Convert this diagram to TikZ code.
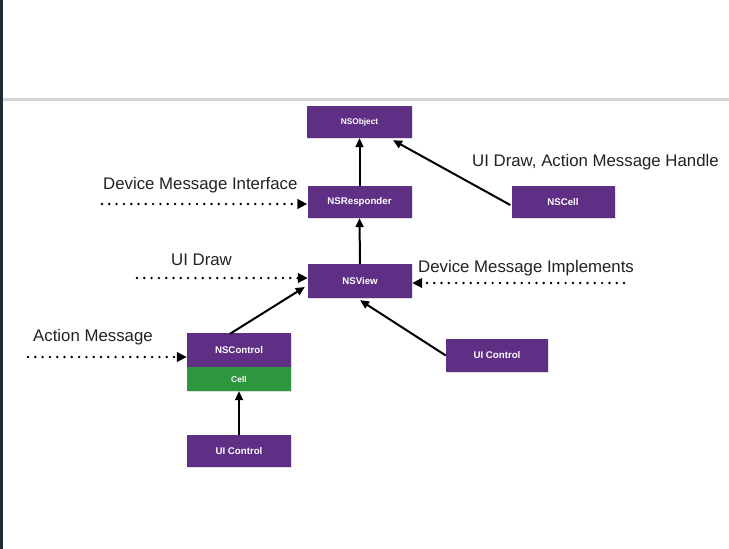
\documentclass[tikz,border=0pt]{standalone}
\usepackage{fontspec}
\setmainfont{Liberation Sans}
\usetikzlibrary{arrows.meta,calc,shadows}
\definecolor{boxpurple}{RGB}{94,47,133}
\definecolor{boxgreen}{RGB}{46,150,60}
\definecolor{labelgray}{RGB}{34,34,34}
\definecolor{rulegray}{RGB}{212,212,212}
\definecolor{edgedark}{RGB}{30,43,48}
\tikzset{
  cls/.style={fill=boxpurple, draw=none, text=white, inner sep=0pt,
    minimum width=104pt, minimum height=32pt,
    font=\fontsize{9.7}{11}\selectfont\bfseries,
    drop shadow={shadow xshift=1pt, shadow yshift=-1.2pt, opacity=0.25}},
  cellbox/.style={cls, fill=boxgreen, minimum height=24pt,
    font=\fontsize{8.5}{10}\selectfont\bfseries},
  lbl/.style={anchor=base west, inner sep=0pt, text=labelgray,
    font=\fontsize{16.8}{19}\selectfont},
  inherit/.style={-{Triangle[length=9pt,width=8pt]}, line width=2pt, black},
  msg/.style={-{Triangle[length=10pt,width=9.5pt]}, line width=2.7pt, black,
    line cap=round, dash pattern=on 0pt off 7.3pt}
}
\begin{document}
\begin{tikzpicture}[x=1pt,y=-1pt]
\useasboundingbox (0,0) rectangle (729,549);
\fill[white] (0,0) rectangle (729,549);
\fill[edgedark] (0,0) rectangle (2.5,549);
\fill[rulegray] (2.5,98) rectangle (729,100.5);

% class boxes
\node[cls, font=\fontsize{8.3}{10}\selectfont\bfseries, minimum width=105pt] (obj) at (359.5,122) {NSObject};
\node[cls] (resp) at (359.5,202) {NSResponder};
\node[cls, minimum width=103pt] (cell) at (563,202) {NSCell};
\node[cls, minimum height=34pt] (view) at (360,281) {NSView};
\node[cls, minimum height=34pt] (ctrl) at (239,350) {NSControl};
\node[cellbox] (ccell) at (239,379) {Cell};
\node[cls] (uil) at (239,451) {UI Control};
\node[cls, minimum width=102pt, minimum height=33pt] (uir) at (497,355.5) {UI Control};

% labels
\node[lbl] (tdmi) at (103,189) {Device Message Interface};
\node[lbl] (tuid) at (472,166) {UI Draw, Action Message Handle};
\node[lbl] (tdraw) at (171,265) {UI Draw};
\node[lbl] (timp) at (418,272) {Device Message Implements};
\node[lbl] (tact) at (33,341) {Action Message};

% inheritance arrows
\draw[inherit] (resp.north) -- (obj.south);
\draw[inherit] ($(cell.west)+(-1,3)$) -- ($(obj.south)+(33.5,2)$);
\draw[inherit] (view.north) -- (resp.south);
\draw[inherit] ($(ctrl.north)+(-9,1)$) -- ($(view.west)+(-3,6)$);
\draw[inherit] (uir.west) -- ($(view.south)+(0,2)$);
\draw[inherit] (uil.north) -- (ccell.south);

% message arrows
\coordinate (sdmi) at (102,204);
\coordinate (sdraw) at (137,278);
\coordinate (simp) at (624,283);
\coordinate (sact) at (28,357);
\draw[msg] (sdmi) -- (sdmi -| resp.west);
\draw[msg] (sdraw) -- (sdraw -| view.west);
\draw[msg] (simp) -- (simp -| view.east);
\draw[msg] (sact) -- (sact -| ctrl.west);
\end{tikzpicture}
\end{document}
